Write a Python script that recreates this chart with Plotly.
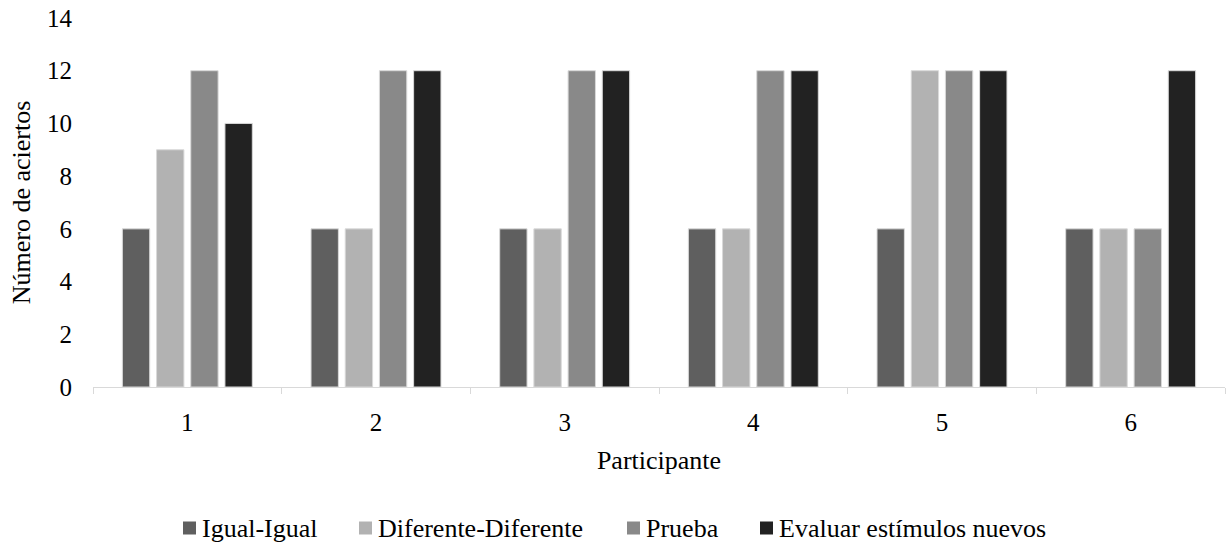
import plotly.graph_objects as go

participantes = ["1", "2", "3", "4", "5", "6"]
series_names = ["Igual-Igual", "Diferente-Diferente", "Prueba", "Evaluar estímulos nuevos"]
igual_igual = [6, 6, 6, 6, 6, 6]
diferente_diferente = [9, 6, 6, 6, 12, 6]
prueba = [12, 12, 12, 12, 12, 6]
evaluar_nuevos = [10, 12, 12, 12, 12, 12]
y_ticks = [0, 2, 4, 6, 8, 10, 12, 14]

colors = ["#5f5f5f", "#b2b2b2", "#898989", "#222222"]
series_values = [igual_igual, diferente_diferente, prueba, evaluar_nuevos]

FONT = "Liberation Serif, Times New Roman, Times, serif"
W, H = 1228, 544
ML, MR, MT, MB = 93, 3, 18, 157
PW, PH = W - ML - MR, H - MT - MB


def px_x(px):
    return (px - ML) / PW


def px_y(py):
    return (H - MB - py) / PH


fig = go.Figure()
for name, vals, col in zip(series_names, series_values, colors):
    fig.add_trace(go.Bar(
        x=participantes, y=vals, name=name, showlegend=False,
        marker=dict(color=col, line=dict(color="#d9d9d9", width=1)),
    ))

# legend row: swatch + label for each series
legend_text_x = [202, 378, 646, 779]
legend_y = 528
for name, col, tx in zip(series_names, colors, legend_text_x):
    fig.add_shape(type="rect", xref="paper", yref="paper",
                  x0=px_x(tx - 19), x1=px_x(tx - 6),
                  y0=px_y(legend_y + 6.5), y1=px_y(legend_y - 6.5),
                  fillcolor=col, line=dict(width=0))
    fig.add_annotation(xref="paper", yref="paper", x=px_x(tx - 2), y=px_y(legend_y),
                       xanchor="left", yanchor="middle", showarrow=False,
                       text=name, font=dict(family=FONT, size=26, color="#000000"))

fig.update_layout(
    width=W, height=H,
    margin=dict(l=ML, r=MR, t=MT, b=MB),
    paper_bgcolor="white", plot_bgcolor="white",
    barmode="group", bargap=0.275, bargroupgap=0.2,
    font=dict(family=FONT, size=25, color="#000000"),
    showlegend=False,
)
fig.update_xaxes(
    showline=True, linecolor="#d9d9d9", linewidth=1,
    ticks="outside", tickson="boundaries", ticklen=6, tickcolor="#d9d9d9",
    tickfont=dict(family=FONT, size=25, color="#000000"),
    ticklabelstandoff=13, automargin=False,
    title=dict(text="Participante", standoff=15,
               font=dict(family=FONT, size=26, color="#000000")),
    showgrid=False,
)
fig.update_yaxes(
    range=[0, 14], tickvals=y_ticks, showgrid=False, showline=False, zeroline=False,
    tickfont=dict(family=FONT, size=25, color="#000000"),
    ticklabelstandoff=20, automargin=False,
    title=dict(text="Número de aciertos", standoff=8,
               font=dict(family=FONT, size=26, color="#000000")),
)

fig.write_html("out.html")
